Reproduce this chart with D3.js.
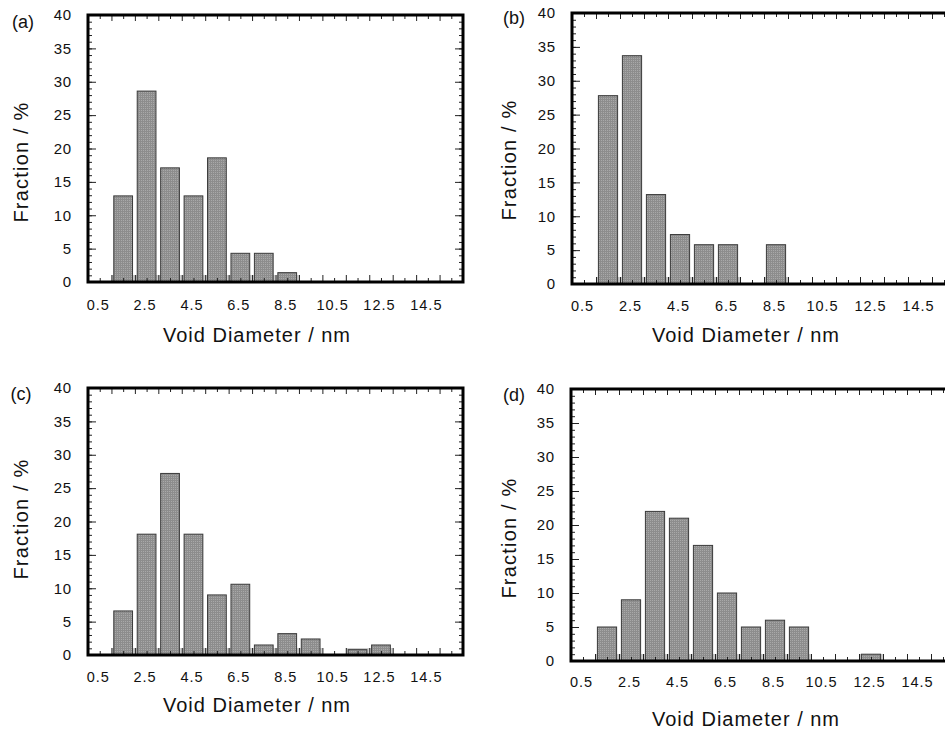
<!DOCTYPE html>
<html>
<head>
<meta charset="utf-8">
<script src="https://cdn.jsdelivr.net/npm/d3@7"></script>
<style>
  body { margin: 0; background: #fff; }
  text { font-family: "Liberation Sans", Arial, sans-serif; fill: #111; }
</style>
</head>
<body>
<div id="chart"></div>
<script>
// bin centres (nm) and fraction (%) for each sample
var binCenters = [1.5, 2.5, 3.5, 4.5, 5.5, 6.5, 7.5, 8.5, 9.5, 10.5, 11.5, 12.5];
var fracA = [12.9, 28.6, 17.1, 12.9, 18.6, 4.3, 4.3, 1.4];
var fracB = [27.8, 33.7, 13.2, 7.3, 5.8, 5.8, 0, 5.8];
var fracC = [6.6, 18.1, 27.2, 18.1, 9.0, 10.6, 1.5, 3.2, 2.4, 0, 0.8, 1.5];
var fracD = [5, 9, 22, 21, 17, 10, 5, 6, 5, 0, 0, 1];
var panelNames = ["(a)", "(b)", "(c)", "(d)"];
var xTickLabels = [0.5, 2.5, 4.5, 6.5, 8.5, 10.5, 12.5, 14.5];
var yTicks = [0, 5, 10, 15, 20, 25, 30, 35, 40];
var xTitle = "Void Diameter / nm";
var yTitle = "Fraction / %";

var svg = d3.select("#chart").append("svg")
  .attr("width", 945)
  .attr("height", 729);

// fine grid texture for the bars
var pat = svg.append("defs").append("pattern")
  .attr("id", "mesh")
  .attr("patternUnits", "userSpaceOnUse")
  .attr("width", 2).attr("height", 2);
pat.append("rect").attr("width", 2).attr("height", 2).attr("fill", "#a9a9a9");
pat.append("path").attr("d", "M0,0.5H2M0.5,0V2").attr("stroke", "#8d8d8d").attr("stroke-width", 1);

// layout of the four panels (screen positions only)
var panels = [
  {data: fracA, left: 88,  top: 15,  w: 375, h: 267, labX: 23,  labY: 22,  yTitleX: 21,  yTitleY: 162, titleX: 257, titleY: 335, pad: 18},
  {data: fracB, left: 572, top: 13,  w: 384, h: 271, labX: 514, labY: 18,  yTitleX: 509, yTitleY: 160, titleX: 746, titleY: 335, pad: 17},
  {data: fracC, left: 88,  top: 388, w: 375, h: 267, labX: 21,  labY: 394, yTitleX: 21,  yTitleY: 519, titleX: 257, titleY: 705, pad: 17},
  {data: fracD, left: 571, top: 389, w: 384, h: 272, labX: 514, labY: 395, yTitleX: 509, yTitleY: 538, titleX: 746, titleY: 719, pad: 16}
];

panels.forEach(function(p, i) {
  var x = d3.scaleLinear().domain([0, 16]).range([0, p.w]);
  var y = d3.scaleLinear().domain([0, 40]).range([p.h, 0]);
  var g = svg.append("g").attr("transform", "translate(" + p.left + "," + p.top + ")");

  var bins = p.data.map(function(v, k) { return {c: binCenters[k], v: v}; })
    .filter(function(d) { return d.v > 0; });

  // pale strip at the foot of each filled bin
  g.selectAll("rect.base").data(bins).enter().append("rect")
    .attr("class", "base")
    .attr("x", function(d) { return x(d.c - 0.5); })
    .attr("width", function(d) { return x(d.c + 0.5) - x(d.c - 0.5); })
    .attr("y", p.h - 7)
    .attr("height", 7)
    .attr("fill", "#cdcdcd");

  g.selectAll("rect.bar").data(bins).enter().append("rect")
    .attr("class", "bar")
    .attr("x", function(d) { return x(d.c - 0.4); })
    .attr("width", function(d) { return x(d.c + 0.4) - x(d.c - 0.4); })
    .attr("y", function(d) { return y(d.v); })
    .attr("height", function(d) { return p.h - y(d.v); })
    .attr("fill", "url(#mesh)")
    .attr("stroke", "#3a3a3a")
    .attr("stroke-width", 1);

  // inward ticks on all four sides
  var whole = d3.range(0, 17, 1), half = d3.range(0.5, 16, 1);
  var minorY = d3.range(0, 41, 1);
  function ticks(axis, vals, size, tr) {
    var a = g.append("g").attr("transform", tr || null)
      .call(axis.tickValues(vals).tickSize(size).tickFormat(""));
    a.select(".domain").remove();
    a.selectAll("line").attr("stroke", "#222").attr("stroke-width", 1);
  }
  ticks(d3.axisBottom(x), whole, -7, "translate(0," + p.h + ")");
  ticks(d3.axisBottom(x), half, -4, "translate(0," + p.h + ")");
  ticks(d3.axisTop(x), whole, -6);
  ticks(d3.axisTop(x), half, -4);
  ticks(d3.axisLeft(y), minorY, -4);
  ticks(d3.axisLeft(y), yTicks, -8);
  ticks(d3.axisRight(y), minorY, -4, "translate(" + p.w + ",0)");
  ticks(d3.axisRight(y), yTicks, -8, "translate(" + p.w + ",0)");

  // tick labels
  var yl = g.append("g").call(d3.axisLeft(y).tickValues(yTicks).tickSize(0).tickPadding(16));
  yl.select(".domain").remove();
  yl.selectAll("text").style("font-size", "15px").style("letter-spacing", "0.8px");

  var xl = g.append("g").attr("transform", "translate(-2," + p.h + ")")
    .call(d3.axisBottom(x).tickValues(xTickLabels).tickSize(0).tickPadding(p.pad).tickFormat(d3.format(".1f")));
  xl.select(".domain").remove();
  xl.selectAll("text").style("font-size", "14.5px").style("letter-spacing", "1px");

  // frame
  g.append("rect")
    .attr("width", p.w).attr("height", p.h)
    .attr("fill", "none").attr("stroke", "#000").attr("stroke-width", 3);

  svg.append("text")
    .attr("x", p.labX).attr("y", p.labY).attr("dy", "0.35em")
    .attr("text-anchor", "middle")
    .style("font-size", "18px")
    .text(panelNames[i]);

  svg.append("text")
    .attr("transform", "translate(" + p.yTitleX + "," + p.yTitleY + ") rotate(-90)")
    .attr("dy", "0.35em")
    .attr("text-anchor", "middle")
    .style("font-size", "20px").style("letter-spacing", "1.2px")
    .text(yTitle);

  svg.append("text")
    .attr("x", p.titleX).attr("y", p.titleY).attr("dy", "0.35em")
    .attr("text-anchor", "middle")
    .style("font-size", "20px").style("letter-spacing", "1px")
    .text(xTitle);
});
</script>
</body>
</html>
